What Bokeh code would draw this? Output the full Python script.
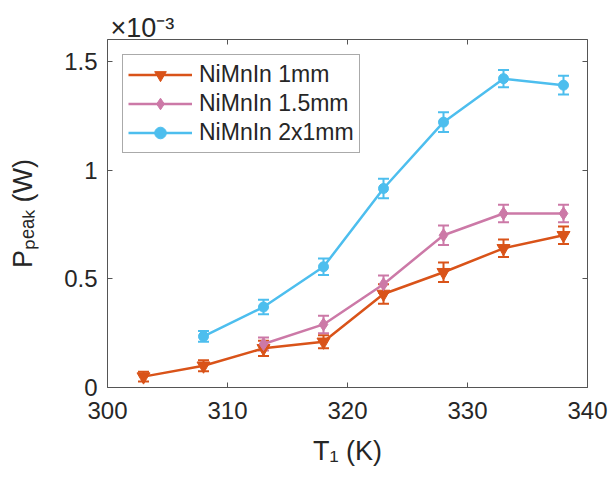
from bokeh.plotting import figure
from bokeh.models import (Range1d, LinearAxis, FixedTicker, NumeralTickFormatter,
                          CustomJSTickFormatter, ColumnDataSource, Whisker, TeeHead,
                          Legend, LegendItem, Title)
from bokeh.embed import file_html
from bokeh.resources import INLINE

# Peak power (in units of 1e-3 W) versus hot-side temperature T1 (K)
t_1mm = [303, 308, 313, 318, 323, 328, 333, 338]
p_1mm = [0.05, 0.10, 0.18, 0.21, 0.43, 0.53, 0.64, 0.70]
e_1mm = [0.022, 0.025, 0.035, 0.03, 0.045, 0.045, 0.04, 0.04]

t_15mm = [313, 318, 323, 328, 333, 338]
p_15mm = [0.20, 0.29, 0.475, 0.70, 0.80, 0.80]
e_15mm = [0.03, 0.04, 0.04, 0.045, 0.04, 0.04]

t_2x1mm = [308, 313, 318, 323, 328, 333, 338]
p_2x1mm = [0.235, 0.37, 0.555, 0.915, 1.22, 1.42, 1.39]
e_2x1mm = [0.025, 0.033, 0.038, 0.045, 0.045, 0.04, 0.043]

series_names = ["NiMnIn 1mm", "NiMnIn 1.5mm", "NiMnIn 2x1mm"]
x_ticks = [300, 310, 320, 330, 340]
y_ticks = [0, 0.5, 1, 1.5]

FONT = "Liberation Sans"
TEXT = "#262626"
AXIS = "#555555"
COLORS = ["#D95319", "#CC79A7", "#4DBEEE"]
MARKERS = [("inverted_triangle", 13), ("diamond", 13), ("circle", 10)]

p = figure(width=609, height=477, x_range=Range1d(300, 340), y_range=Range1d(0, 1.6),
           output_backend="svg", toolbar_location=None,
           min_border_left=107, min_border_right=22, min_border_top=39, min_border_bottom=90)
p.xgrid.visible = False
p.ygrid.visible = False
p.outline_line_color = None
p.background_fill_color = "white"
p.border_fill_color = "white"

bottom_axis = p.below[0]
left_axis = p.left[0]
top_axis = LinearAxis()
right_axis = LinearAxis()
p.add_layout(top_axis, "above")
p.add_layout(right_axis, "right")


def style_axis(ax, ticks, labelled):
    ax.ticker = FixedTicker(ticks=ticks)
    ax.major_tick_in = 5
    ax.major_tick_out = 0
    ax.minor_tick_line_color = None
    ax.axis_line_color = AXIS
    ax.axis_line_width = 1
    ax.major_tick_line_color = AXIS
    ax.major_tick_line_width = 1
    ax.major_label_text_font = FONT
    ax.major_label_text_font_size = "24px"
    ax.major_label_text_color = TEXT
    ax.axis_label_text_font = FONT
    ax.axis_label_text_font_size = "27px"
    ax.axis_label_text_font_style = "normal"
    ax.axis_label_text_color = TEXT
    if not labelled:
        ax.formatter = CustomJSTickFormatter(code="return ''")
        ax.major_label_standoff = 0


style_axis(bottom_axis, x_ticks, True)
style_axis(top_axis, x_ticks, False)
style_axis(left_axis, y_ticks, True)
style_axis(right_axis, y_ticks, False)
bottom_axis.major_label_standoff = 14
left_axis.major_label_standoff = 10
left_axis.formatter = NumeralTickFormatter(format="0.[0]")

bottom_axis.axis_label = "T\u2081 (K)"
bottom_axis.axis_label_standoff = 14
left_axis.axis_label = "P\u209a\u2091\u2090\u2096 (W)"
left_axis.axis_label_standoff = 23

# axis multiplier above the top-left corner
p.add_layout(Title(text="\u00d710\u207b\u00b3", align="left", offset=3, standoff=-6,
                   vertical_align="bottom", text_font=FONT, text_font_size="27px",
                   text_font_style="normal", text_color=TEXT), "above")

data = [(t_1mm, p_1mm, e_1mm), (t_15mm, p_15mm, e_15mm), (t_2x1mm, p_2x1mm, e_2x1mm)]
items = []
for (tx, py, ey), name, color, (marker, size) in zip(data, series_names, COLORS, MARKERS):
    src = ColumnDataSource(dict(
        t=tx, p=py,
        lo=[v - e for v, e in zip(py, ey)],
        hi=[v + e for v, e in zip(py, ey)],
    ))
    p.add_layout(Whisker(source=src, base="t", lower="lo", upper="hi",
                         line_color=color, line_width=2,
                         upper_head=TeeHead(size=11, line_color=color, line_width=2),
                         lower_head=TeeHead(size=11, line_color=color, line_width=2)))
    ln = p.line("t", "p", source=src, line_color=color, line_width=2.5)
    mk = p.scatter("t", "p", source=src, marker=marker, size=size,
                   fill_color=color, line_color=color, line_width=1)
    items.append(LegendItem(label=name, renderers=[ln, mk]))

legend = Legend(items=items, location="top_left", margin=15, padding=5, spacing=0,
                glyph_width=64, glyph_height=29, label_height=29, label_standoff=7,
                label_text_font=FONT, label_text_font_size="23px", label_text_color=TEXT,
                border_line_color=AXIS, border_line_width=1,
                background_fill_color="white", background_fill_alpha=1)
p.add_layout(legend)

# error-bar symbols inside the legend swatches (frame-relative pixels)
frame_h = 477 - 39 - 90
row_top = frame_h - 15 - 5
for i, color in enumerate(COLORS):
    cy = row_top - 14.5 - 29 * i
    sw = ColumnDataSource(dict(b=[15 + 5 + 32], lo=[cy - 11], hi=[cy + 11]))
    p.add_layout(Whisker(source=sw, base="b", lower="lo", upper="hi",
                         base_units="screen", lower_units="screen", upper_units="screen",
                         level="overlay", line_color=color, line_width=2,
                         upper_head=TeeHead(size=11, line_color=color, line_width=2),
                         lower_head=TeeHead(size=11, line_color=color, line_width=2)))

open("out.html", "w").write(file_html(p, INLINE))
